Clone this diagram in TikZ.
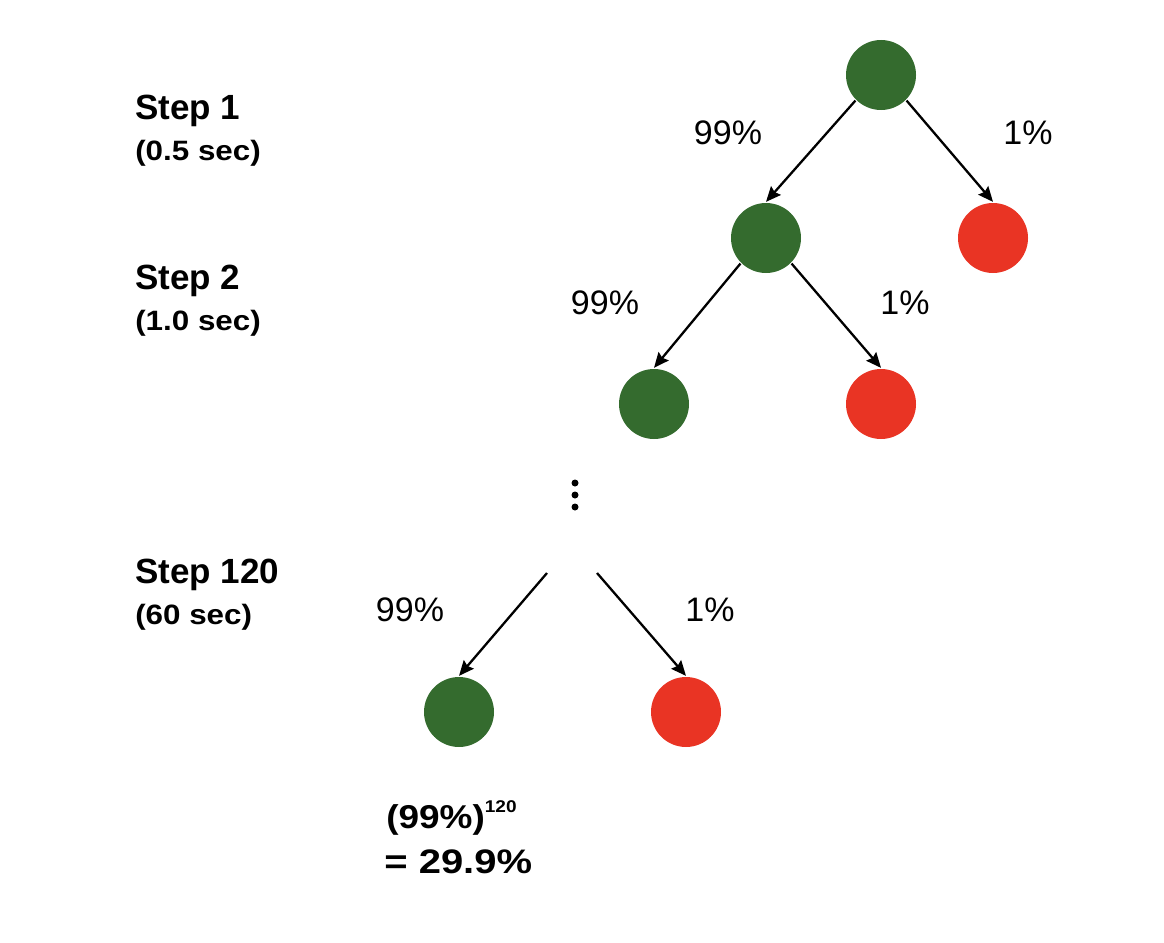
\documentclass[tikz,border=0pt]{standalone}
\usepackage{fontspec}
\setmainfont{Liberation Sans}
\usetikzlibrary{arrows.meta}
\definecolor{okgreen}{RGB}{52,107,46}
\definecolor{failred}{RGB}{233,52,36}
\tikzset{
	ok/.style={circle,fill=okgreen,minimum size=70pt,inner sep=0pt},
	fail/.style={circle,fill=failred,minimum size=70pt,inner sep=0pt},
	steplabel/.style={anchor=base west,inner sep=0pt,font=\bfseries\fontsize{35}{42}\selectfont},
	timelabel/.style={anchor=base west,inner sep=0pt,xscale=1.12,font=\bfseries\fontsize{28}{34}\selectfont},
	prob/.style={anchor=base,inner sep=0pt,font=\fontsize{34}{40}\selectfont},
	result/.style={anchor=base west,inner sep=0pt,xscale=1.12}
}
\begin{document}
\begin{tikzpicture}[x=1pt,y=-1pt,line width=2.3pt,>={Stealth[length=15pt,width=13pt,inset=2pt]}]
	\useasboundingbox (0,0) rectangle (1164,942);
	% step labels
	\node[steplabel] (s1) at (134,119) {Step 1};
	\node[timelabel] (t1) at (134,160) {(0.5 sec)};
	\node[steplabel] (s2) at (134,289) {Step 2};
	\node[timelabel] (t2) at (134,330) {(1.0 sec)};
	\node[steplabel] (s3) at (134,583) {Step 120};
	\node[timelabel] (t3) at (134,624) {(60 sec)};
	% tree
	\node[ok] (root) at (881,75) {};
	\node[ok] (g1) at (766,238) {};
	\node[fail] (r1) at (993,238) {};
	\node[ok] (g2) at (654,404) {};
	\node[fail] (r2) at (881,404) {};
	\node[ok] (g3) at (459,712) {};
	\node[fail] (r3) at (686,712) {};
	\draw[->] (root.south west) -- (g1.north);
	\draw[->] (root.south east) -- (r1.north);
	\draw[->] (g1.south west) -- (g2.north);
	\draw[->] (g1.south east) -- (r2.north);
	\foreach \y in {483,495,507}
		\fill (575,\y) circle (3.5pt);
	\coordinate (sl) at (547,573);
	\coordinate (sr) at (597,573);
	\draw[->] (sl) -- (g3.north);
	\draw[->] (sr) -- (r3.north);
	% probabilities
	\node[prob] (p1) at (728,144) {99\%};
	\node[prob] (q1) at (1028,144) {1\%};
	\node[prob] (p2) at (605,314) {99\%};
	\node[prob] (q2) at (905,314) {1\%};
	\node[prob] (p3) at (410,621) {99\%};
	\node[prob] (q3) at (710,621) {1\%};
	% result
	\node[result,font=\bfseries\fontsize{33}{40}\selectfont] (pow) at (385,828)
		{(99\%)\raisebox{16pt}{\fontsize{17}{20}\selectfont 120}};
	\node[result,font=\bfseries\fontsize{34}{41}\selectfont,xscale=1.05] (res) at (383,873) {= 29.9\%};
\end{tikzpicture}
\end{document}
